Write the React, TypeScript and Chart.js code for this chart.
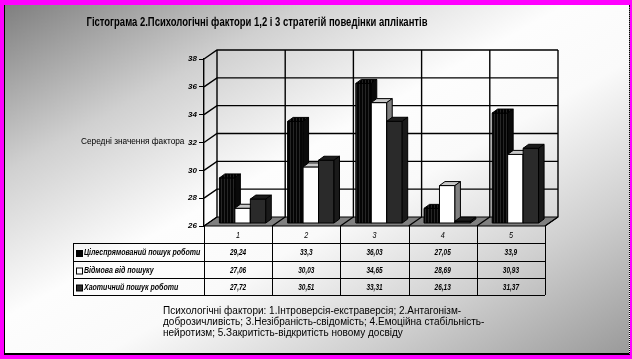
import React, { useEffect, useRef } from "react";
import { Chart, registerables } from "chart.js";
Chart.register(...registerables);

const categories = ["1", "2", "3", "4", "5"];
const seriesNames = ["Цілеспрямований пошук роботи", "Відмова від пошуку", "Хаотичний пошук роботи"];
const targeted = [29.24, 33.3, 36.03, 27.05, 33.9];
const refusal = [27.06, 30.03, 34.65, 28.69, 30.93];
const chaotic = [27.72, 30.51, 33.31, 26.13, 31.37];
const yMin = 26;
const yMax = 38;
const yStep = 2;
const title = "Гістограма 2.Психологічні фактори 1,2 і 3 стратегій поведінки аплікантів";
const yLabel = "Середні значення фактора";
const captionLines = [
  "Психологічні фактори: 1.Інтроверсія-екстраверсія; 2.Антагонізм-",
  "доброзичливість; 3.Незібраність-свідомість; 4.Емоційна стабільність-",
  "нейротизм; 5.Закритість-відкритість  новому досвіду",
];

const FONT = 'Arial, "Liberation Sans", sans-serif';
const WALL_DX = 13, WALL_DY = -9;
const BAR_OX = 4.5, BAR_OY = -3;
const BAR_DX = 5.5, BAR_DY = -4;
const ROW_Y = [243, 261, 278, 295];
const LEGEND_LEFT = 73;

function poly(ctx: CanvasRenderingContext2D, pts: number[][], fill: any, stroke = "#000") {
  ctx.beginPath();
  ctx.moveTo(pts[0][0], pts[0][1]);
  for (let i = 1; i < pts.length; i++) ctx.lineTo(pts[i][0], pts[i][1]);
  ctx.closePath();
  ctx.fillStyle = fill;
  ctx.fill();
  ctx.strokeStyle = stroke;
  ctx.lineWidth = 1;
  ctx.stroke();
}

function line(ctx: CanvasRenderingContext2D, pts: number[][], w = 1.4) {
  ctx.beginPath();
  ctx.moveTo(pts[0][0], pts[0][1]);
  for (let i = 1; i < pts.length; i++) ctx.lineTo(pts[i][0], pts[i][1]);
  ctx.strokeStyle = "#000";
  ctx.lineWidth = w;
  ctx.stroke();
}

function stripePattern(ctx: CanvasRenderingContext2D, a: string, b: string) {
  const c = document.createElement("canvas");
  c.width = 3; c.height = 3;
  const g = c.getContext("2d")!;
  g.fillStyle = a; g.fillRect(0, 0, 3, 3);
  g.fillStyle = b; g.fillRect(2, 0, 1, 3);
  return ctx.createPattern(c, "repeat");
}

function condensedText(ctx: CanvasRenderingContext2D, text: string, x: number, y: number, sx: number, align: CanvasTextAlign) {
  ctx.save();
  ctx.translate(x, y);
  ctx.scale(sx, 1);
  ctx.textAlign = align;
  ctx.textBaseline = "middle";
  ctx.fillText(text, 0, 0);
  ctx.restore();
}

const threeD = {
  id: "threeD",
  beforeDatasetsDraw(chart: any) {
    const { ctx, chartArea: a, scales } = chart;
    const x = scales.x, y = scales.y;
    ctx.save();
    const yb = y.getPixelForValue(yMin);
    poly(ctx, [[a.left, yb], [a.right, yb], [a.right + WALL_DX, yb + WALL_DY], [a.left + WALL_DX, yb + WALL_DY]], "#808080");
    for (let v = yMin + yStep; v <= yMax; v += yStep) {
      const yv = y.getPixelForValue(v);
      line(ctx, [[a.left, yv], [a.left + WALL_DX, yv + WALL_DY], [a.right + WALL_DX, yv + WALL_DY]]);
    }
    const cw = x.getPixelForValue(1) - x.getPixelForValue(0);
    const yt = y.getPixelForValue(yMax);
    for (let k = 0; k <= categories.length; k++) {
      const xb = x.getPixelForValue(0) - cw / 2 + k * cw;
      line(ctx, [[xb, yb], [xb + WALL_DX, yb + WALL_DY], [xb + WALL_DX, yt + WALL_DY]]);
    }
    ctx.restore();
  },
  afterDatasetsDraw(chart: any) {
    const { ctx, scales } = chart;
    const y = scales.y;
    ctx.save();
    const styles = [
      { front: stripePattern(ctx, "#050505", "#262626"), top: stripePattern(ctx, "#000", "#222"), side: "#0a0a0a" },
      { front: "#ffffff", top: "#c8c8c8", side: "#808080" },
      { front: "#2a2a2a", top: "#1c1c1c", side: "#1a1a1a" },
    ];
    const base = y.getPixelForValue(yMin);
    const n = chart.data.datasets.length;
    for (let i = 0; i < categories.length; i++) {
      for (let d = 0; d < n; d++) {
        const el = chart.getDatasetMeta(d).data[i];
        const l = el.x - el.width / 2 + BAR_OX, r = el.x + el.width / 2 + BAR_OX;
        const t = y.getPixelForValue(chart.data.datasets[d].data[i]) + BAR_OY, b = base + BAR_OY;
        const s = styles[d];
        poly(ctx, [[l, t], [r, t], [r, b], [l, b]], s.front);
        poly(ctx, [[l, t], [r, t], [r + BAR_DX, t + BAR_DY], [l + BAR_DX, t + BAR_DY]], s.top);
        poly(ctx, [[r, t], [r + BAR_DX, t + BAR_DY], [r + BAR_DX, b + BAR_DY], [r, b]], s.side);
      }
    }
    ctx.restore();
  },
  afterDraw(chart: any) {
    const { ctx, chartArea: a, scales } = chart;
    const x = scales.x;
    const cw = x.getPixelForValue(1) - x.getPixelForValue(0);
    const top = a.bottom;
    ctx.save();
    for (let k = 0; k <= categories.length; k++) {
      const xb = Math.round(x.getPixelForValue(0) - cw / 2 + k * cw) + 0.5;
      line(ctx, [[xb, top], [xb, ROW_Y[3]]], 1);
    }
    line(ctx, [[LEGEND_LEFT + 0.5, ROW_Y[0]], [LEGEND_LEFT + 0.5, ROW_Y[3]]], 1);
    for (let r = 0; r < ROW_Y.length; r++) {
      line(ctx, [[LEGEND_LEFT, ROW_Y[r] + 0.5], [a.right, ROW_Y[r] + 0.5]], 1);
    }
    ctx.fillStyle = "#000";
    ctx.font = `italic 9px ${FONT}`;
    for (let i = 0; i < categories.length; i++) {
      condensedText(ctx, categories[i], x.getPixelForValue(i), (top + ROW_Y[0]) / 2 + 1, 0.8, "center");
    }
    const keys = ["#000", "#fff", "#2a2a2a"];
    chart.data.datasets.forEach((ds: any, d: number) => {
      const cy = (ROW_Y[d] + ROW_Y[d + 1]) / 2 + 1;
      ctx.fillStyle = keys[d];
      ctx.fillRect(LEGEND_LEFT + 3.5, cy - 2.5, 6, 6);
      ctx.strokeStyle = "#000";
      ctx.lineWidth = 1;
      ctx.strokeRect(LEGEND_LEFT + 3.5, cy - 2.5, 6, 6);
      ctx.fillStyle = "#000";
      ctx.font = `italic bold 9px ${FONT}`;
      condensedText(ctx, ds.label, LEGEND_LEFT + 11, cy, 0.78, "left");
      ds.data.forEach((v: number, i: number) => {
        condensedText(ctx, String(v).replace(".", ","), x.getPixelForValue(i), cy, 0.72, "center");
      });
    });
    ctx.restore();
  },
};

export default function App() {
  const ref = useRef<HTMLCanvasElement>(null);
  useEffect(() => {
    document.body.style.margin = "0";
    const chart = new Chart(ref.current!, {
      type: "bar",
      data: {
        labels: categories,
        datasets: [
          { label: seriesNames[0], data: targeted, backgroundColor: "rgba(0,0,0,0)", borderWidth: 0 },
          { label: seriesNames[1], data: refusal, backgroundColor: "rgba(0,0,0,0)", borderWidth: 0 },
          { label: seriesNames[2], data: chaotic, backgroundColor: "rgba(0,0,0,0)", borderWidth: 0 },
        ],
      },
      options: {
        responsive: false,
        animation: false,
        devicePixelRatio: 1,
        layout: { padding: { left: 174, top: 59, right: 87, bottom: 133 } },
        datasets: { bar: { categoryPercentage: 0.68, barPercentage: 1 } },
        plugins: { legend: { display: false }, tooltip: { enabled: false }, title: { display: false } },
        scales: {
          x: { display: false },
          y: {
            min: yMin,
            max: yMax,
            afterFit: (s: any) => { s.width = 30; },
            ticks: { stepSize: yStep, color: "#000", padding: 2, font: { family: FONT, size: 8, style: "italic", weight: "bold" } },
            grid: { display: true, drawOnChartArea: false, drawTicks: true, tickLength: 5, color: "#000" },
            border: { display: true, color: "#000", width: 1.4 },
          },
        },
      },
      plugins: [threeD],
    });
    return () => chart.destroy();
  }, []);

  return (
    <div style={{ position: "relative", width: 632, height: 359, background: "#ff00ff", overflow: "hidden", fontFamily: FONT }}>
      <div
        style={{
          position: "absolute", left: 4, top: 5, width: 624, height: 348,
          background: "linear-gradient(to bottom right, #7f7f7f 0%, #d0d0d0 24%, #fdfdfd 45%, #fafafa 58%, #d0d0d0 78%, #9a9a9a 100%)",
          borderLeft: "1px solid #000", borderBottom: "2px solid #000", borderRight: "1px dotted #000",
        }}
      />
      <canvas ref={ref} width={632} height={359} style={{ position: "absolute", left: 0, top: 0, width: 632, height: 359 }} />
      <div style={{ position: "absolute", left: 257, top: 15, whiteSpace: "nowrap", fontWeight: "bold", fontSize: 12, lineHeight: "14px", color: "#000", transform: "translateX(-50%) scaleX(0.79)" }}>
        {title}
      </div>
      <div style={{ position: "absolute", left: 81, top: 135, whiteSpace: "nowrap", fontSize: 9, lineHeight: "12px", color: "#000", transform: "scaleX(0.92)", transformOrigin: "left top" }}>
        {yLabel}
      </div>
      <div style={{ position: "absolute", left: 163, top: 305, whiteSpace: "nowrap", fontSize: 10, lineHeight: "11px", color: "#000" }}>
        {captionLines.map((l, i) => (<div key={i}>{l}</div>))}
      </div>
    </div>
  );
}
